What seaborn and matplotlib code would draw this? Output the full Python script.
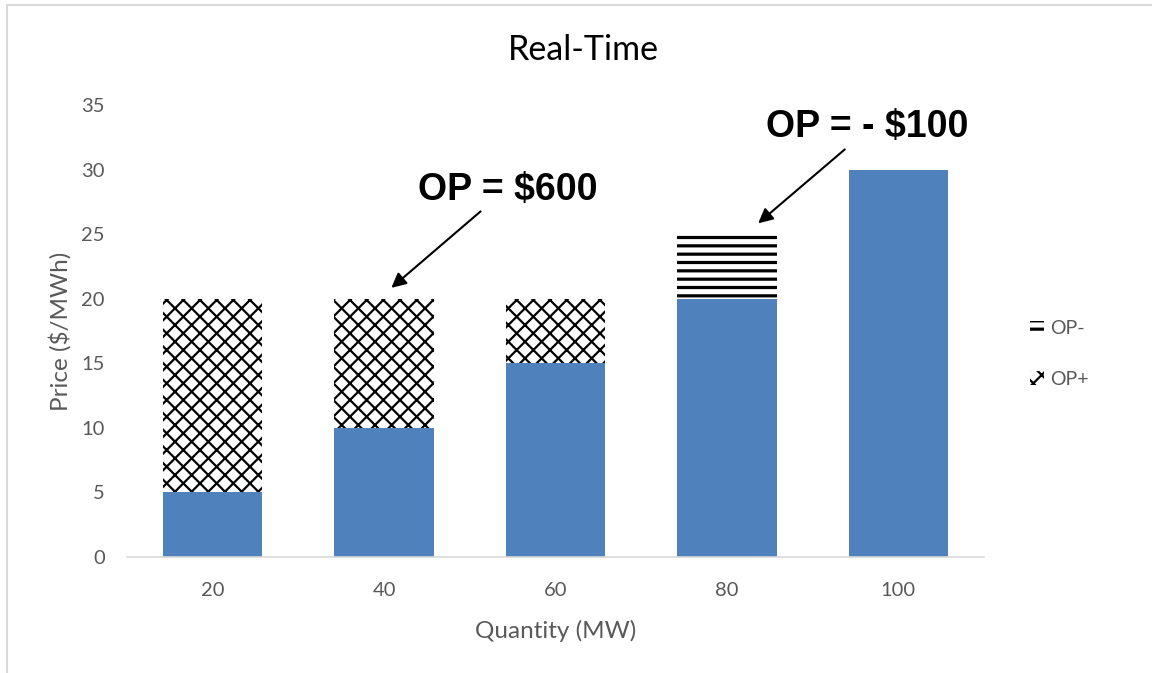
import matplotlib
matplotlib.use("Agg")
import matplotlib.pyplot as plt
from matplotlib.patches import Patch
from matplotlib.lines import Line2D
import seaborn as sns
import pandas as pd

# ---- data ----
quantities = ["20", "40", "60", "80", "100"]
base_price = [5, 10, 15, 20, 30]
op_plus = [15, 10, 5, 0, 0]
op_minus = [0, 0, 0, 5, 0]
title = "Real-Time"
x_label = "Quantity (MW)"
y_label = "Price ($/MWh)"
y_ticks = [0, 5, 10, 15, 20, 25, 30, 35]

df = pd.DataFrame({
    "Quantity": quantities,
    "Base": base_price,
    "OPplus_top": [b + p for b, p in zip(base_price, op_plus)],
    "OPminus_top": [b + m for b, m in zip(base_price, op_minus)],
})

sns.set_theme(style="white")
plt.rcParams["font.family"] = ["Lato", "DejaVu Sans"]
plt.rcParams["hatch.color"] = "black"

BLUE = "#4F81BD"
GRAY = "#595959"
LW_MINUS = 2.3
LW_PLUS = 1.6

fig = plt.figure(figsize=(11.52, 6.73), dpi=100)
ax = fig.add_axes([127 / 1152, 1 - 557 / 673, (984 - 127) / 1152, (557 - 105) / 673])

bar_w = 0.58
with plt.rc_context({"hatch.linewidth": LW_MINUS}):
    sns.barplot(data=df, x="Quantity", y="OPminus_top", order=quantities, color="white",
                hatch="--", edgecolor="black", linewidth=0, width=bar_w, saturation=1,
                errorbar=None, ax=ax)
with plt.rc_context({"hatch.linewidth": LW_PLUS}):
    sns.barplot(data=df, x="Quantity", y="OPplus_top", order=quantities, color="white",
                hatch="xx", edgecolor="black", linewidth=0, width=bar_w, saturation=1,
                errorbar=None, ax=ax)
sns.barplot(data=df, x="Quantity", y="Base", order=quantities, color=BLUE,
            linewidth=0, width=bar_w, saturation=1, errorbar=None, ax=ax)

ax.set_xlim(-0.5, len(quantities) - 0.5)
ax.set_ylim(0, 35)
ax.set_yticks(y_ticks)
ax.tick_params(axis="both", length=0, labelsize=14.5, labelcolor=GRAY)
ax.tick_params(axis="x", pad=18)
ax.tick_params(axis="y", pad=16)
for s in ["top", "right", "left"]:
    ax.spines[s].set_visible(False)
ax.spines["bottom"].set_color("#D9D9D9")
ax.spines["bottom"].set_linewidth(1.2)
ax.set_xlabel(x_label, fontsize=17.5, color=GRAY, labelpad=15)
ax.set_ylabel(y_label, fontsize=17.5, color=GRAY, labelpad=7)
ax.grid(False)

fig.text(583 / 1152, 1 - 50 / 673, title, fontsize=24.5, color="black", ha="center", va="center")

# annotations
ax.annotate("", xy=(1.03, 20.7), xytext=(1.575, 26.9),
            arrowprops=dict(arrowstyle="-|>", color="black", lw=1.5, mutation_scale=22))
ax.text(1.72, 28.4, "OP = $600", fontsize=27, fontweight="bold", ha="center", va="center",
        family=["Liberation Sans", "DejaVu Sans"], color="black")
ax.annotate("", xy=(3.17, 25.7), xytext=(3.70, 31.7),
            arrowprops=dict(arrowstyle="-|>", color="black", lw=1.5, mutation_scale=22))
ax.text(3.82, 33.3, "OP = - $100", fontsize=27, fontweight="bold", ha="center", va="center",
        family=["Liberation Sans", "DejaVu Sans"], color="black")

# legend
h_minus = Patch(facecolor="white", edgecolor="black", hatch="--", linewidth=0, label="OP-")
h_plus = Patch(facecolor="white", edgecolor="black", hatch="xx", linewidth=0, label="OP+")
with plt.rc_context({"hatch.linewidth": LW_MINUS}):
    leg = fig.legend(handles=[h_minus, h_plus], loc="center left",
                     bbox_to_anchor=(1012 / 1152, 1 - 354 / 673), frameon=False,
                     fontsize=14, handlelength=0.75, handleheight=0.75, handletextpad=0.3,
                     labelspacing=1.7)
for t in leg.get_texts():
    t.set_color(GRAY)
lh = leg.legend_handles
for h, lw in zip(lh, [LW_MINUS, LW_PLUS]):
    if hasattr(h, "set_hatch_linewidth"):
        h.set_hatch_linewidth(lw)

# outer border (top and left visible)
fig.add_artist(Line2D([6.5 / 1152, 1], [1 - 4.5 / 673] * 2, transform=fig.transFigure,
                      color="#D9D9D9", lw=1.5))
fig.add_artist(Line2D([6.5 / 1152] * 2, [0, 1 - 4.5 / 673], transform=fig.transFigure,
                      color="#D9D9D9", lw=1.5))

fig.savefig("out.png", dpi=100, facecolor="white")
